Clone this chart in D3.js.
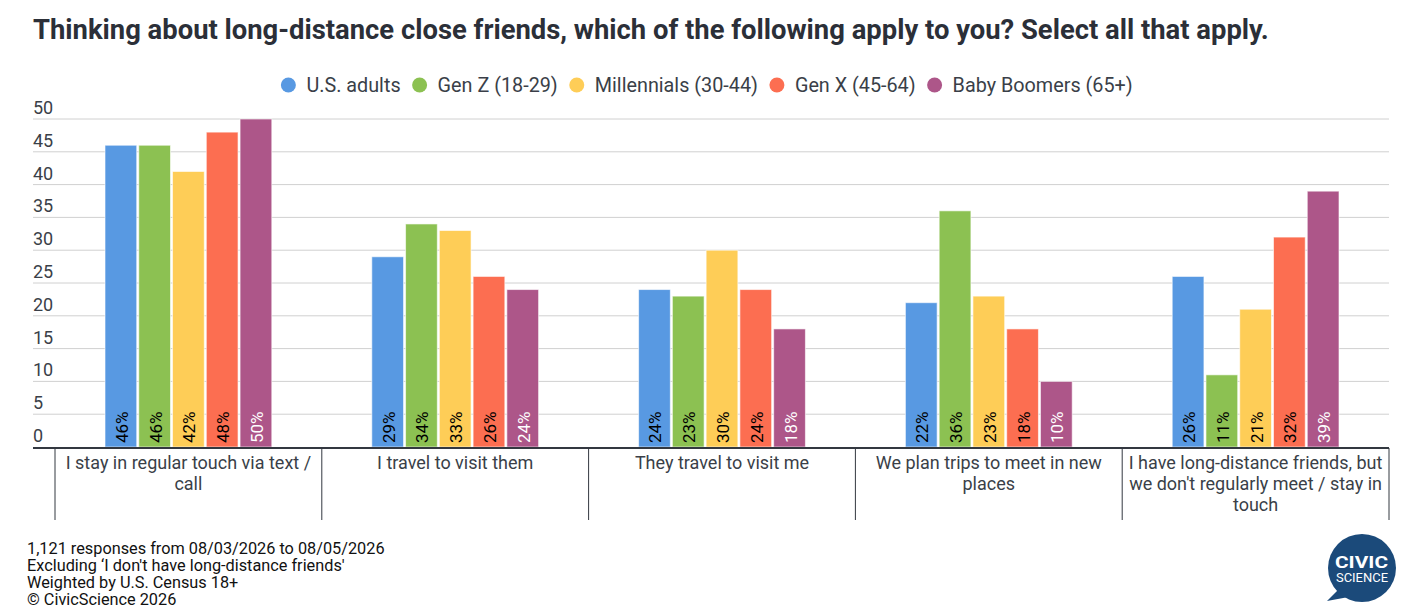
<!DOCTYPE html>
<html><head><meta charset="utf-8">
<script src="https://cdn.jsdelivr.net/npm/d3@7"></script>
<style>
body{margin:0;background:#fff;}
svg{display:block;font-family:Roboto,"Noto Sans",sans-serif;}
</style></head>
<body><svg id="c" width="1422" height="614"></svg>
<script>
const title = "Thinking about long-distance close friends, which of the following apply to you? Select all that apply.";
const categories = [
  ["I stay in regular touch via text /","call"],
  ["I travel to visit them"],
  ["They travel to visit me"],
  ["We plan trips to meet in new","places"],
  ["I have long-distance friends, but","we don't regularly meet / stay in","touch"]
];
const seriesNames = ["U.S. adults","Gen Z (18-29)","Millennials (30-44)","Gen X (45-64)","Baby Boomers (65+)"];
const seriesColors = ["#5899E2","#8CC152","#FECD57","#FC6E51","#AD5689"];
const labelColors = ["#000","#000","#000","#000","#fff"];
const usAdults   = [46,29,24,22,26];
const genZ       = [46,34,23,36,11];
const millennials= [42,33,30,23,21];
const genX       = [48,26,24,18,32];
const boomers    = [50,24,18,10,39];
const yTicks = [0,5,10,15,20,25,30,35,40,45,50];
const footer = ["1,121 responses from 08/03/2026 to 08/05/2026","Excluding \u2018I don't have long-distance friends'","Weighted by U.S. Census 18+","\u00a9 CivicScience 2026"];

const series = [usAdults,genZ,millennials,genX,boomers];
const svg = d3.select("#c");
const pLeft=55,pRight=1389,pTop=119,pBottom=447;

svg.append("text").attr("x",33).attr("y",39).attr("font-size",27.4).attr("font-weight",700)
  .attr("fill","#2b2f38").text(title);

const x0 = d3.scaleBand().domain(d3.range(categories.length)).range([pLeft,pRight]).paddingInner(0).paddingOuter(0);
const x1 = d3.scaleBand().domain(d3.range(series.length)).range([50, x0.bandwidth()-50]).paddingInner(0.06);
const y = d3.scaleLinear().domain([0,50]).range([pBottom,pTop]);

// grid
const g = svg.append("g");
g.selectAll("line.grid").data(yTicks.filter(t=>t>0)).join("line")
  .attr("x1",33).attr("x2",pRight).attr("y1",d=>y(d)).attr("y2",d=>y(d))
  .attr("stroke","#d0d0d0").attr("stroke-width",1);
g.selectAll("text.yt").data(yTicks).join("text")
  .attr("x",33).attr("y",d=>y(d)-5).attr("font-size",18).attr("fill","#3a3f48").text(d=>d);

// bars
const groups = svg.append("g").selectAll("g").data(categories).join("g")
  .attr("transform",(d,i)=>`translate(${x0(i)},0)`);
groups.each(function(cat,ci){
  const gg=d3.select(this);
  series.forEach((s,si)=>{
    const v=s[ci];
    gg.append("rect").attr("x",x1(si)).attr("width",x1.bandwidth())
      .attr("y",y(v)).attr("height",y(0)-y(v))
      .attr("fill",seriesColors[si]).attr("stroke","rgba(255,255,255,0.6)").attr("stroke-width",1);
    const cx=x1(si)+x1.bandwidth()/2;
    gg.append("text").attr("transform",`translate(${cx+1},${pBottom-4}) rotate(-90)`)
      .attr("dominant-baseline","central").attr("font-size",17).attr("fill",labelColors[si])
      .text(v+"%");
  });
});

// baseline & separators
svg.append("line").attr("x1",33).attr("x2",pRight).attr("y1",pBottom+1).attr("y2",pBottom+1)
  .attr("stroke","#333840").attr("stroke-width",2);
svg.selectAll("line.sep").data(d3.range(categories.length+1)).join("line")
  .attr("x1",d=>pLeft+d*x0.bandwidth()).attr("x2",d=>pLeft+d*x0.bandwidth())
  .attr("y1",pBottom+1).attr("y2",520).attr("stroke","#333840").attr("stroke-width",1);
categories.forEach((lines,ci)=>{
  const t=svg.append("text").attr("x",x0(ci)+x0.bandwidth()/2).attr("text-anchor","middle")
    .attr("font-size",18).attr("fill","#3a3f48");
  lines.forEach((l,li)=>t.append("tspan").attr("x",x0(ci)+x0.bandwidth()/2).attr("y",469+li*21).text(l));
});

// legend
const leg = svg.append("g");
let lx=0;
seriesNames.forEach((n,i)=>{
  leg.append("circle").attr("cx",lx+7).attr("cy",85).attr("r",7.5).attr("fill",seriesColors[i]);
  const t=leg.append("text").attr("x",lx+25).attr("y",92).attr("font-size",19.8).attr("fill","#3a3f48").text(n);
  lx += 25 + t.node().getComputedTextLength() + 12;
});
const lw = lx-12;
leg.attr("transform",`translate(${707-lw/2},0)`);

// footer
footer.forEach((f,i)=>svg.append("text").attr("x",27).attr("y",554+i*17).attr("font-size",16.3).attr("fill","#111").text(f));

// logo
const logo=svg.append("g");
logo.append("path").attr("d","M1340,588 L1327,601 L1354,596 Z").attr("fill","#1b4a7a");
logo.append("circle").attr("cx",1362).attr("cy",568).attr("r",34).attr("fill","#1b4a7a");
logo.append("text").attr("x",1335).attr("y",567.5).attr("font-size",17)
  .attr("font-weight",700).attr("fill","#fff").attr("textLength",53).attr("lengthAdjust","spacingAndGlyphs").text("CIVIC");
logo.append("text").attr("x",1336).attr("y",581.5).attr("font-size",12.5)
  .attr("fill","#fff").attr("textLength",52).attr("lengthAdjust","spacingAndGlyphs").text("SCIENCE");
</script></body></html>
